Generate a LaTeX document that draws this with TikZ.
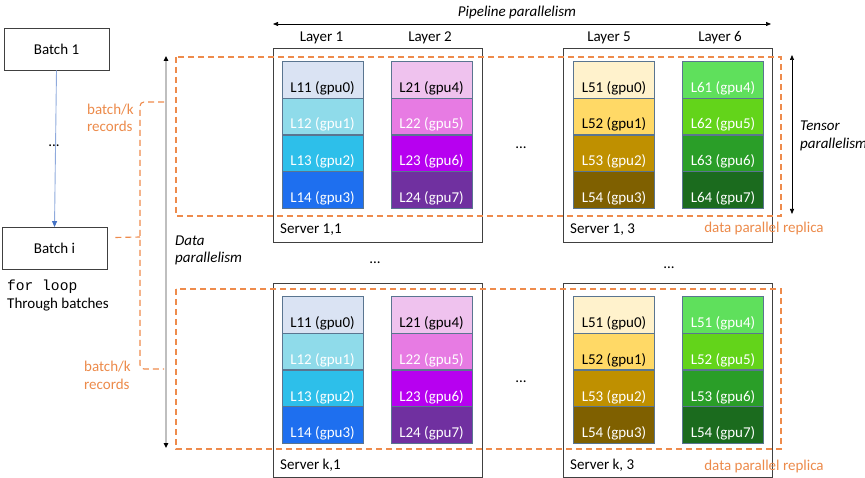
\documentclass[tikz,border=0pt]{standalone}
\usepackage{fontspec}
\setmainfont{Carlito}
\newfontfamily\monofont{Liberation Mono}
\usetikzlibrary{arrows.meta}
\definecolor{dorange}{HTML}{EE8B4C}
\definecolor{torange}{HTML}{EC8A4A}
\definecolor{boxgray}{HTML}{404040}
\definecolor{cellborder}{HTML}{5A7590}
\definecolor{bline}{HTML}{8FAADC}
\definecolor{bhead}{HTML}{4472C4}
\definecolor{dline}{HTML}{BFBFBF}
\definecolor{cA}{HTML}{DAE3F3}\definecolor{cB}{HTML}{8FDBEA}\definecolor{cC}{HTML}{2DBFEA}\definecolor{cD}{HTML}{1E6FEF}
\definecolor{cE}{HTML}{EFC2EE}\definecolor{cF}{HTML}{E77BE3}\definecolor{cG}{HTML}{B700F0}\definecolor{cH}{HTML}{7030A0}
\definecolor{cI}{HTML}{FFF2CC}\definecolor{cJ}{HTML}{FFD966}\definecolor{cK}{HTML}{BF9000}\definecolor{cL}{HTML}{7F6000}
\definecolor{cM}{HTML}{5FE05C}\definecolor{cN}{HTML}{63D41A}\definecolor{cO}{HTML}{2A9E28}\definecolor{cP}{HTML}{1B6B1E}
\newcommand\gpucell[6]{\node[gcell, fill=#4, text=#5] (#1) at (#2,#3) {#6};}
\begin{document}
\begin{tikzpicture}[x=1pt,y=-1pt,
  every node/.style={font=\fontsize{15}{17.5}\selectfont, inner sep=0pt},
  batchbox/.style={draw=boxgray, line width=0.9pt, minimum width=105pt, minimum height=42pt},
  serverbox/.style={draw=boxgray, line width=0.9pt, minimum width=209pt, minimum height=194pt},
  gcell/.style={draw=cellborder, line width=0.7pt, minimum width=81pt, minimum height=36.5pt, text height=25pt, text depth=0pt},
  odash/.style={draw=dorange, line width=1.1pt, dash pattern=on 6pt off 4pt},
  otext/.style={text=torange, align=left},
  itext/.style={font=\fontsize{15}{17.5}\selectfont\itshape, align=left},
]
\useasboundingbox (0,0) rectangle (865,478);

% batches
\node[batchbox] (b1) at (56.5,49) {Batch 1};
\node[batchbox] (bi) at (54.5,248.5) {Batch i};
\draw[draw=bline, line width=0.9pt, -{Triangle[length=6pt,width=5pt,color=bhead]}] (b1.south) -- (bi.north);
\node (bdots) at (54,146) {...};
\node[anchor=west, font=\monofont\fontsize{14.6}{17}\selectfont] (forloop) at (7,287) {for loop};
\node[anchor=west] (through) at (7,305) {Through batches};

% servers
\node[serverbox] (s11) at (377.5,145) {};
\node[serverbox] (s13) at (667.5,145) {};
\node[serverbox] (sk1) at (377.5,380) {};
\node[serverbox] (sk3) at (667.5,380) {};
\node[anchor=west] (s11t) at (280,230) {Server 1,1};
\node[anchor=west] (s13t) at (570,230) {Server 1, 3};
\node[anchor=west] (sk1t) at (280,465) {Server k,1};
\node[anchor=west] (sk3t) at (570,465) {Server k, 3};

% dashed replicas
\draw[odash] (176,57) rectangle (781,216);
\draw[odash] (176,289) rectangle (781,449);
\node[otext] (rep1) at (764,229) {data parallel replica};
\node[otext] (rep2) at (764,466) {data parallel replica};

% layers
\node (lay1) at (321.5,38) {Layer 1};
\node (lay2) at (430,38) {Layer 2};
\node (lay5) at (609,38) {Layer 5};
\node (lay6) at (720,38) {Layer 6};

% cells top
\gpucell{a1}{322.5}{80}{cA}{black}{L11 (gpu0)}
\gpucell{a2}{322.5}{116.5}{cB}{white}{L12 (gpu1)}
\gpucell{a3}{322.5}{153.5}{cC}{white}{L13 (gpu2)}
\gpucell{a4}{322.5}{190}{cD}{white}{L14 (gpu3)}
\gpucell{b1c}{431.5}{80}{cE}{black}{L21 (gpu4)}
\gpucell{b2c}{431.5}{116.5}{cF}{white}{L22 (gpu5)}
\gpucell{b3c}{431.5}{153.5}{cG}{white}{L23 (gpu6)}
\gpucell{b4c}{431.5}{190}{cH}{white}{L24 (gpu7)}
\gpucell{c1}{614}{80}{cI}{black}{L51 (gpu0)}
\gpucell{c2}{614}{116.5}{cJ}{black}{L52 (gpu1)}
\gpucell{c3}{614}{153.5}{cK}{white}{L53 (gpu2)}
\gpucell{c4}{614}{190}{cL}{white}{L54 (gpu3)}
\gpucell{d1}{723}{80}{cM}{white}{L61 (gpu4)}
\gpucell{d2}{723}{116.5}{cN}{white}{L62 (gpu5)}
\gpucell{d3}{723}{153.5}{cO}{white}{L63 (gpu6)}
\gpucell{d4}{723}{190}{cP}{white}{L64 (gpu7)}
% cells bottom
\gpucell{ka1}{322.5}{315}{cA}{black}{L11 (gpu0)}
\gpucell{ka2}{322.5}{351.5}{cB}{white}{L12 (gpu1)}
\gpucell{ka3}{322.5}{388.5}{cC}{white}{L13 (gpu2)}
\gpucell{ka4}{322.5}{425}{cD}{white}{L14 (gpu3)}
\gpucell{kb1}{431.5}{315}{cE}{black}{L21 (gpu4)}
\gpucell{kb2}{431.5}{351.5}{cF}{white}{L22 (gpu5)}
\gpucell{kb3}{431.5}{388.5}{cG}{white}{L23 (gpu6)}
\gpucell{kb4}{431.5}{425}{cH}{white}{L24 (gpu7)}
\gpucell{kc1}{614}{315}{cI}{black}{L51 (gpu0)}
\gpucell{kc2}{614}{351.5}{cJ}{black}{L52 (gpu1)}
\gpucell{kc3}{614}{388.5}{cK}{white}{L53 (gpu2)}
\gpucell{kc4}{614}{425}{cL}{white}{L54 (gpu3)}
\gpucell{kd1}{723}{315}{cM}{white}{L51 (gpu4)}
\gpucell{kd2}{723}{351.5}{cN}{white}{L52 (gpu5)}
\gpucell{kd3}{723}{388.5}{cO}{white}{L53 (gpu6)}
\gpucell{kd4}{723}{425}{cP}{white}{L54 (gpu7)}

% dots
\node (dt1) at (521,148) {...};
\node (dt2) at (521,382) {...};
\node (dt3) at (375,263) {...};
\node (dt4) at (669,268) {...};

% pipeline arrow
\coordinate (pl) at (273,24);
\coordinate (pr) at (771,24);
\draw[line width=0.7pt, {Triangle[length=5pt,width=4pt]}-{Triangle[length=5pt,width=4pt]}] (pl) -- (pr);
\node[itext] (pipe) at (517,13) {Pipeline parallelism};

% tensor arrow
\coordinate (tt) at (792,55);
\coordinate (tb) at (792,214);
\draw[line width=0.7pt, {Triangle[length=5pt,width=4pt]}-{Triangle[length=5pt,width=4pt]}] (tt) -- (tb);
\node[itext, anchor=west] (tens) at (800,136) {Tensor\\[1pt]parallelism};

% data parallel arrow
\coordinate (dtop) at (166,56);
\coordinate (dbot) at (166,448);
\draw[draw=dline, line width=1.6pt, {Triangle[length=5pt,width=4.5pt,color=black]}-{Triangle[length=5pt,width=4.5pt,color=black]}] (dtop) -- (dbot);
\node[itext, anchor=west] (dpar) at (175,250.5) {Data\\parallelism};

% bracket
\coordinate (bt) at (164,102);
\coordinate (bb) at (164,369);
\coordinate (bm) at (140,237);
\draw[odash, rounded corners=4pt] (bt) -- (140,102) -- (140,369) -- (bb);
\draw[odash] ([xshift=8pt,yshift=11pt]bi.east) -- (bm);
\node[otext, anchor=west] (rec1) at (87,118) {batch/k\\records};
\node[otext, anchor=west] (rec2) at (84,375.5) {batch/k\\records};
\end{tikzpicture}
\end{document}
